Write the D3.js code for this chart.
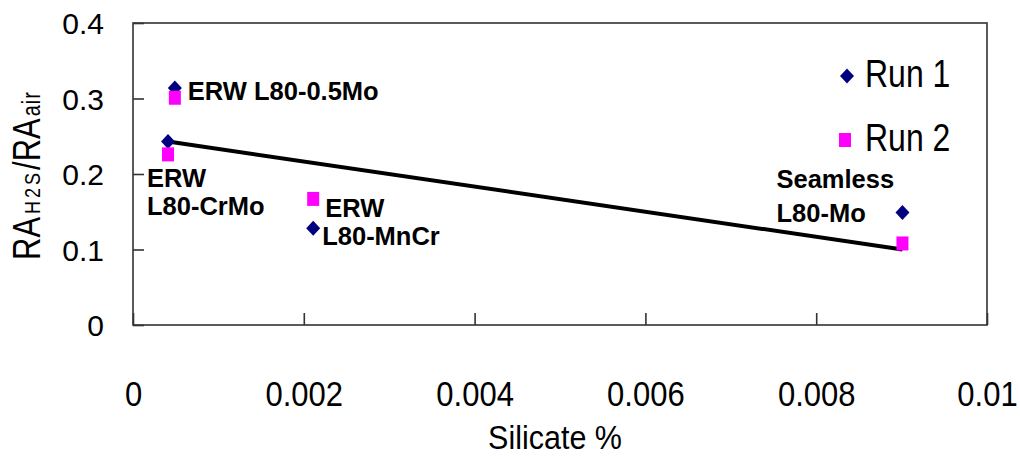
<!DOCTYPE html>
<html>
<head>
<meta charset="utf-8">
<script src="https://cdn.jsdelivr.net/npm/d3@7/dist/d3.min.js"></script>
<style>
  html, body { margin: 0; padding: 0; background: #fff; }
  svg { display: block; font-family: "Liberation Sans", Arial, sans-serif; }
</style>
</head>
<body>
<svg id="chart" width="1020" height="459"></svg>
<script>
// Silicate content of each steel and the two measurement runs
const silicate = [0.00041, 0.00049, 0.00211, 0.00901];
const run1 = [0.243, 0.314, 0.128, 0.149];
const run2 = [0.226, 0.301, 0.167, 0.108];
const steelLabels = [
  ["ERW", "L80-CrMo"],
  ["ERW L80-0.5Mo"],
  ["ERW", "L80-MnCr"],
  ["Seamless", "L80-Mo"]
];
const trendX = [0.00041, 0.00901];
const trendY = [0.243, 0.100];
const xTicks = [0, 0.002, 0.004, 0.006, 0.008, 0.01];
const xTickLabels = ["0", "0.002", "0.004", "0.006", "0.008", "0.01"];
const yTicks = [0, 0.1, 0.2, 0.3, 0.4];
const yTickLabels = ["0", "0.1", "0.2", "0.3", "0.4"];
const seriesNames = ["Run 1", "Run 2"];

const svg = d3.select("#chart");
const plot = { left: 133, right: 987, top: 23, bottom: 325 };

const x = d3.scaleLinear().domain([0, 0.01]).range([plot.left, plot.right]);
const y = d3.scaleLinear().domain([0, 0.4]).range([plot.bottom, plot.top]);

const axisColor = "#333";

// Plot frame
svg.append("rect")
  .attr("x", plot.left).attr("y", plot.top)
  .attr("width", plot.right - plot.left).attr("height", plot.bottom - plot.top)
  .attr("fill", "none").attr("stroke", axisColor).attr("stroke-width", 1.6);

// Left axis: inward ticks
const yAxis = svg.append("g")
  .attr("transform", `translate(${plot.left},0)`)
  .call(d3.axisLeft(y).tickValues(yTicks).tickSizeInner(-11).tickSizeOuter(0)
    .tickPadding(29).tickFormat((d, i) => yTickLabels[i]));
yAxis.select(".domain").remove();
yAxis.selectAll(".tick line").attr("stroke", axisColor).attr("stroke-width", 1.6);
yAxis.selectAll(".tick text")
  .attr("font-size", 30).attr("fill", "#000").attr("dy", "0.36em")
  .attr("font-family", "'Liberation Sans', Arial, sans-serif");

// Bottom axis: inward ticks, labels drawn slightly tall
const xAxis = svg.append("g")
  .attr("transform", `translate(0,${plot.bottom})`)
  .call(d3.axisBottom(x).tickValues(xTicks).tickSizeInner(-12).tickSizeOuter(0)
    .tickFormat((d, i) => xTickLabels[i]));
xAxis.select(".domain").remove();
xAxis.selectAll(".tick line").attr("stroke", axisColor).attr("stroke-width", 1.6);
xAxis.selectAll(".tick text")
  .attr("y", 0).attr("dy", 0)
  .attr("transform", "translate(0,81) scale(1,1.14)")
  .attr("font-size", 31).attr("fill", "#000")
  .attr("font-family", "'Liberation Sans', Arial, sans-serif");

// Axis titles
svg.append("g")
  .attr("transform", "translate(555,449) scale(1,1.1)")
  .append("text")
  .attr("text-anchor", "middle")
  .attr("font-size", 30.5)
  .text("Silicate %");

const yTitle = svg.append("g")
  .attr("transform", "translate(40,260) rotate(-90) scale(1,1.25)")
  .append("text")
  .attr("font-size", 31);
yTitle.append("tspan").text("RA");
yTitle.append("tspan").attr("font-size", 18).attr("dx", 3).attr("letter-spacing", 3).text("H2S");
yTitle.append("tspan").text("/RA");
yTitle.append("tspan").attr("font-size", 20).attr("dx", 2).attr("letter-spacing", 1).text("air");

// Trend line
const points = trendX.map((d, i) => [x(d), y(trendY[i])]);
svg.append("path")
  .attr("d", d3.line()(points))
  .attr("stroke", "#000").attr("stroke-width", 4).attr("fill", "none");

// Markers
const diamond = (cx, cy) => `M${cx},${cy - 7.5}L${cx + 7},${cy}L${cx},${cy + 7.5}L${cx - 7},${cy}Z`;
const squareW = 12, squareH = 14;

svg.append("g").selectAll("path")
  .data(run1)
  .join("path")
  .attr("d", (d, i) => diamond(x(silicate[i]), y(d)))
  .attr("fill", "#000080");

svg.append("g").selectAll("rect")
  .data(run2)
  .join("rect")
  .attr("x", (d, i) => x(silicate[i]) - squareW / 2)
  .attr("y", d => y(d) - squareH / 2)
  .attr("width", squareW).attr("height", squareH)
  .attr("fill", "#ff00ff");

// Steel grade annotations (offsets from each data point)
const labelPos = [
  { dx: -21, y0: 187, lh: 28 },
  { dx: 13, y0: 100, lh: 28 },
  { dx: 12, y0: 217, lh: 28 },
  { dx: -126, y0: 188, lh: 34 }
];
const labelG = svg.append("g")
  .attr("font-weight", "bold").attr("font-size", 25.5).attr("fill", "#000");
steelLabels.forEach((lines, i) => {
  const p = labelPos[i];
  lines.forEach((t, j) => {
    labelG.append("text")
      .attr("x", x(silicate[i]) + p.dx - (i === 2 && j === 1 ? 3 : 0))
      .attr("y", p.y0 + j * p.lh)
      .text(t);
  });
});

// Legend
const legend = svg.append("g");
seriesNames.forEach((name, i) => {
  const ly = 76 + i * 64;
  if (i === 0) {
    legend.append("path").attr("d", diamond(847, ly)).attr("fill", "#000080");
  } else {
    legend.append("rect")
      .attr("x", 845 - squareW / 2).attr("y", ly - squareH / 2)
      .attr("width", squareW).attr("height", squareH).attr("fill", "#ff00ff");
  }
  legend.append("g")
    .attr("transform", `translate(865,${ly + 11}) scale(1,1.2)`)
    .append("text")
    .attr("font-size", 32)
    .text(name);
});
</script>
</body>
</html>
